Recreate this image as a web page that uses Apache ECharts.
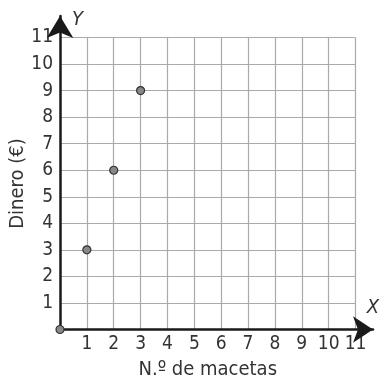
<!DOCTYPE html>
<html>
<head>
<meta charset="utf-8">
<script src="https://cdn.jsdelivr.net/npm/echarts@6/dist/echarts.min.js"></script>
<style>html,body{margin:0;padding:0;background:#fff}#c{width:384px;height:383px}</style>
</head>
<body>
<div id="c"></div>
<script>
const macetas = [0, 1, 2, 3];
const dinero = [0, 3, 6, 9];
const xTicks = [0, 1, 2, 3, 4, 5, 6, 7, 8, 9, 10, 11];
const yTicks = [0, 1, 2, 3, 4, 5, 6, 7, 8, 9, 10, 11];
const xName = 'N.º de macetas';
const yName = 'Dinero (€)';

const FONT = '"Liberation Sans Narrow", "DejaVu Sans Condensed", "Liberation Sans", sans-serif';
const chart = echarts.init(document.getElementById('c'));
const lab = {color: '#333', fontFamily: FONT, fontSize: 20};
const tickLab = {color: '#333', fontFamily: FONT, fontSize: 19};
chart.setOption({
  animation: false,
  grid: [
    {left: 60, right: 28.5, top: 37.5, bottom: 53.5, containLabel: false, outerBoundsMode: 'none'},
    {left: 60, right: 11, top: 16, bottom: 53.5, containLabel: false, outerBoundsMode: 'none'}
  ],
  xAxis: [
    {gridIndex: 0, type: 'value', min: xTicks[0], max: xTicks[xTicks.length - 1], interval: 1,
     name: xName, nameLocation: 'middle', nameGap: 30, nameMoveOverlap: false, nameTextStyle: lab,
     axisLine: {show: false}, axisTick: {show: false},
     axisLabel: {showMinLabel: false, margin: 5, ...tickLab},
     splitLine: {show: true, lineStyle: {color: '#aaa', width: 1.2}}},
    {gridIndex: 1, type: 'value', min: 0, max: 1,
     name: 'X', nameLocation: 'end', nameGap: 0,
     nameTextStyle: {color: '#333', fontFamily: FONT, fontSize: 20, fontStyle: 'italic', align: 'center', verticalAlign: 'bottom', padding: [0, 0, 12, 0]},
     axisLine: {show: true, symbol: ['none', 'arrow'], symbolSize: [20, 20], lineStyle: {color: '#1a1a1a', width: 2.5}},
     axisTick: {show: false}, axisLabel: {show: false}, splitLine: {show: false}}
  ],
  yAxis: [
    {gridIndex: 0, type: 'value', min: yTicks[0], max: yTicks[yTicks.length - 1], interval: 1,
     name: yName, nameLocation: 'middle', nameGap: 32, nameMoveOverlap: false, nameTextStyle: lab,
     axisLine: {show: false}, axisTick: {show: false},
     axisLabel: {showMinLabel: false, margin: 7, ...tickLab},
     splitLine: {show: true, lineStyle: {color: '#aaa', width: 1.2}}},
    {gridIndex: 1, type: 'value', min: 0, max: 1,
     name: 'Y', nameLocation: 'end', nameGap: -4,
     nameTextStyle: {color: '#333', fontFamily: FONT, fontSize: 20, fontStyle: 'italic', align: 'left', verticalAlign: 'middle', padding: [0, 0, 0, 12]},
     axisLine: {show: true, symbol: ['none', 'arrow'], symbolSize: [20, 22], lineStyle: {color: '#1a1a1a', width: 2.5}},
     axisTick: {show: false}, axisLabel: {show: false}, splitLine: {show: false}}
  ],
  series: [{
    type: 'scatter', xAxisIndex: 0, yAxisIndex: 0, clip: false,
    symbolSize: 8,
    itemStyle: {color: '#888', borderColor: '#333', borderWidth: 1.2, opacity: 1},
    data: macetas.map((m, i) => [m, dinero[i]]), z: 5
  }]
});
</script>
</body>
</html>
